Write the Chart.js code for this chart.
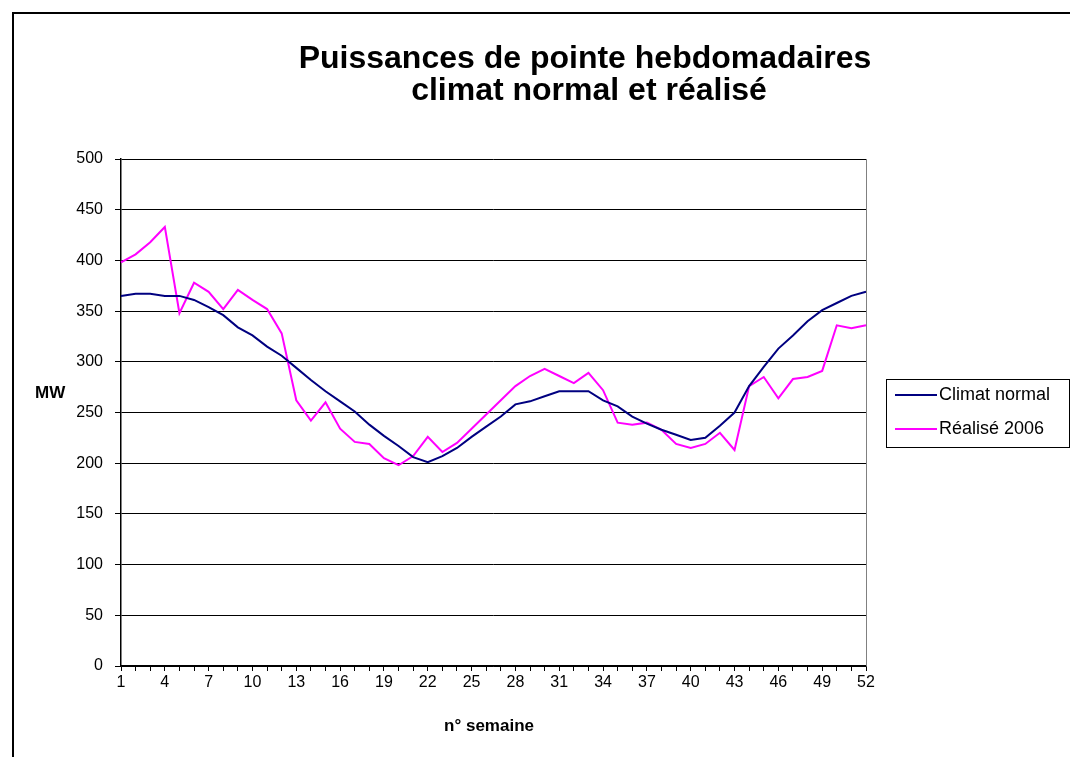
<!DOCTYPE html>
<html>
<head>
<meta charset="utf-8">
<script src="https://cdn.jsdelivr.net/npm/chart.js@4/dist/chart.umd.min.js"></script>
<style>
    html, body { margin: 0; padding: 0; background: #fff; }
</style>
</head>
<body>
<canvas id="chart" width="1070" height="757"></canvas>
<script>
// Semaines
const weeks = ['1','2','3','4','5','6','7','8','9','10','11','12','13','14','15','16','17','18','19','20',
    '21','22','23','24','25','26','27','28','29','30','31','32','33','34','35','36','37','38','39','40',
    '41','42','43','44','45','46','47','48','49','50','51','52'];

// Puissances (MW)
const climatNormal = [365,367,367,365,365,361,354,346,334,326,
    315,306,294,282,271,261,251,238,227,217,
    206,201,207,215,226,236,246,258,261,266,
    271,271,271,262,256,246,239,233,228,223,
    225,237,250,276,295,313,326,340,351,358,
    365,369];
const realise2006 = [398,406,418,433,348,378,369,352,371,361,
    352,328,262,242,260,234,221,219,205,198,
    207,226,211,220,234,248,262,276,286,293,
    286,279,289,272,240,238,240,233,219,215,
    219,230,213,276,285,264,283,285,291,336,
    333,336];

const yTicks = [0,50,100,150,200,250,300,350,400,450,500];

const FONT = '"Liberation Sans", Arial, sans-serif';

// Decorations: frame, titles, axis labels, legend
const decor = {
    id: 'decor',
    beforeDraw(chart) {
        const ctx = chart.ctx;
        ctx.save();
        ctx.fillStyle = '#fff';
        ctx.fillRect(0, 0, chart.width, chart.height);
        ctx.strokeStyle = '#000';
        ctx.lineWidth = 2;
        ctx.beginPath();
        ctx.moveTo(13, chart.height);
        ctx.lineTo(13, 13);
        ctx.lineTo(chart.width, 13);
        ctx.stroke();
        ctx.restore();
    },
    afterDraw(chart) {
        const ctx = chart.ctx;
        const area = chart.chartArea;
        ctx.save();
        // right border of plot
        ctx.strokeStyle = '#808080';
        ctx.lineWidth = 1;
        ctx.beginPath();
        ctx.moveTo(area.right + 0.5, area.top);
        ctx.lineTo(area.right + 0.5, area.bottom);
        ctx.stroke();

        // title
        ctx.fillStyle = '#000';
        ctx.textAlign = 'center';
        ctx.textBaseline = 'middle';
        ctx.font = 'bold 32px ' + FONT;
        ctx.fillText('Puissances de pointe hebdomadaires', 585, 59);
        ctx.fillText('climat normal et réalisé', 589, 91);

        // axis titles
        ctx.font = 'bold 17px ' + FONT;
        ctx.fillText('n° semaine', 489, 726);
        ctx.textAlign = 'left';
        ctx.fillText('MW', 35, 393);

        // legend
        ctx.strokeStyle = '#000';
        ctx.lineWidth = 1;
        ctx.strokeRect(886.5, 379.5, 183, 68);
        ctx.font = '18px ' + FONT;
        chart.data.datasets.forEach((ds, i) => {
            const y = 395 + i * 34;
            ctx.strokeStyle = ds.borderColor;
            ctx.lineWidth = 2;
            ctx.beginPath();
            ctx.moveTo(895, y);
            ctx.lineTo(937, y);
            ctx.stroke();
            ctx.fillStyle = '#000';
            ctx.fillText(ds.label, 939, y);
        });
        ctx.restore();
    }
};

new Chart(document.getElementById('chart'), {
    type: 'line',
    data: {
        labels: weeks,
        datasets: [
            {
                label: 'Climat normal',
                data: climatNormal,
                borderColor: '#000080',
                borderWidth: 2,
                pointRadius: 0,
                tension: 0
            },
            {
                label: 'Réalisé 2006',
                data: realise2006,
                borderColor: '#FF00FF',
                borderWidth: 2,
                pointRadius: 0,
                tension: 0
            }
        ]
    },
    options: {
        responsive: false,
        animation: false,
        layout: { padding: { left: 0, top: 159, right: 204, bottom: 0 } },
        plugins: {
            legend: { display: false },
            tooltip: { enabled: false }
        },
        scales: {
            x: {
                offset: false,
                afterFit(scale) { scale.height = 91; },
                grid: { drawOnChartArea: false, drawTicks: true, tickLength: 5, color: '#000' },
                border: { color: '#000', width: 1.5 },
                ticks: {
                    autoSkip: false,
                    maxRotation: 0,
                    padding: 2,
                    color: '#000',
                    font: { family: FONT, size: 16 },
                    callback: function(value, index) {
                        return index % 3 === 0 ? weeks[index] : '';
                    }
                }
            },
            y: {
                min: 0,
                max: 500,
                afterFit(scale) { scale.width = 121; },
                afterBuildTicks(scale) { scale.ticks = yTicks.map(v => ({ value: v })); },
                grid: { color: '#000', lineWidth: 1, tickLength: 6 },
                border: { color: '#000', width: 1.5 },
                ticks: {
                    padding: 12,
                    color: '#000',
                    font: { family: FONT, size: 16 }
                }
            }
        }
    },
    plugins: [decor]
});
</script>
</body>
</html>
